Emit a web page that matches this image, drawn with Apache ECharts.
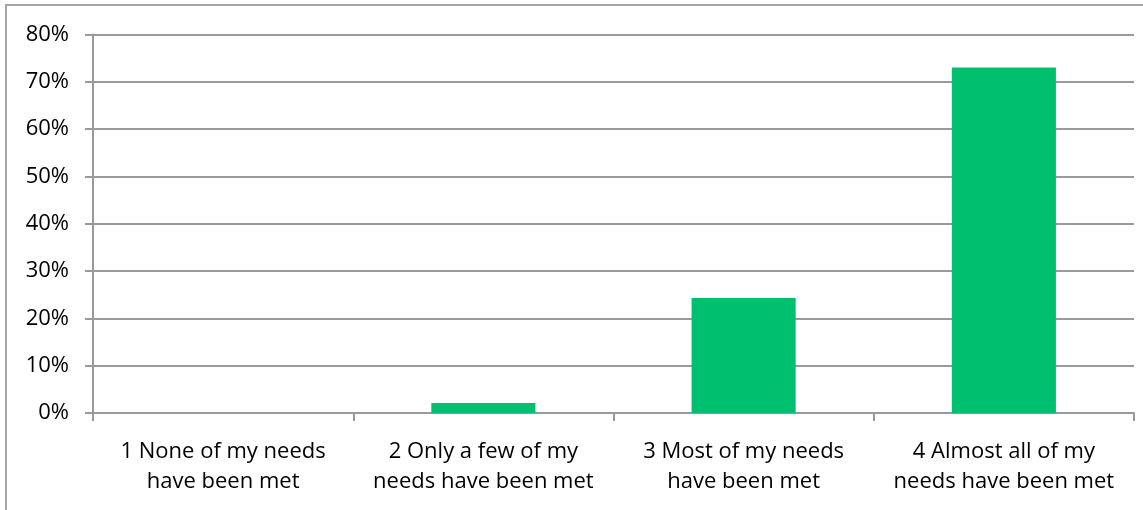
<!DOCTYPE html>
<html>
<head>
<meta charset="utf-8">
<script src="https://cdn.jsdelivr.net/npm/echarts@6/dist/echarts.min.js"></script>
<style>
  html, body { margin: 0; padding: 0; background: #fff; }
  #chart { width: 1143px; height: 510px; }
</style>
</head>
<body>
<div id="chart"></div>
<script>
// Response categories (two-line labels)
const categories = [
  '1 None of my needs\nhave been met',
  '2 Only a few of my\nneeds have been met',
  '3 Most of my needs\nhave been met',
  '4 Almost all of my\nneeds have been met'
];
// Share of respondents, percent
const shares = [0, 2.1, 24.3, 73.0];
// Value axis ticks
const yMin = 0, yMax = 80, yStep = 10;

const gridColor = '#9a9a9a';
const textStyle = { color: '#000', fontFamily: 'Open Sans', fontSize: 22 };

const chart = echarts.init(document.getElementById('chart'), null, { renderer: 'canvas' });
chart.setOption({
  animation: false,
  backgroundColor: '#fff',
  graphic: [{
    type: 'rect',
    shape: { x: 6, y: 5, width: 1160, height: 530 },
    style: { fill: 'none', stroke: '#a6a6a6', lineWidth: 2 },
    silent: true
  }],
  grid: { left: 93, right: 9, top: 34.5, bottom: 97 },
  xAxis: {
    type: 'category',
    data: categories,
    axisLine: { lineStyle: { color: gridColor, width: 2 } },
    axisTick: { show: true, length: 8, lineStyle: { color: gridColor, width: 2 } },
    axisLabel: Object.assign({ margin: 24, lineHeight: 30, interval: 0 }, textStyle)
  },
  yAxis: {
    type: 'value',
    min: yMin, max: yMax, interval: yStep,
    axisLine: { show: true, lineStyle: { color: gridColor, width: 2 } },
    axisTick: { show: true, length: 8, lineStyle: { color: gridColor, width: 2 } },
    splitLine: { lineStyle: { color: gridColor, width: 2 } },
    axisLabel: Object.assign({ margin: 24, formatter: '{value}%' }, textStyle)
  },
  series: [{
    type: 'bar',
    data: shares,
    barWidth: '40%',
    itemStyle: { color: '#00BF6F' }
  }]
});
</script>
</body>
</html>
